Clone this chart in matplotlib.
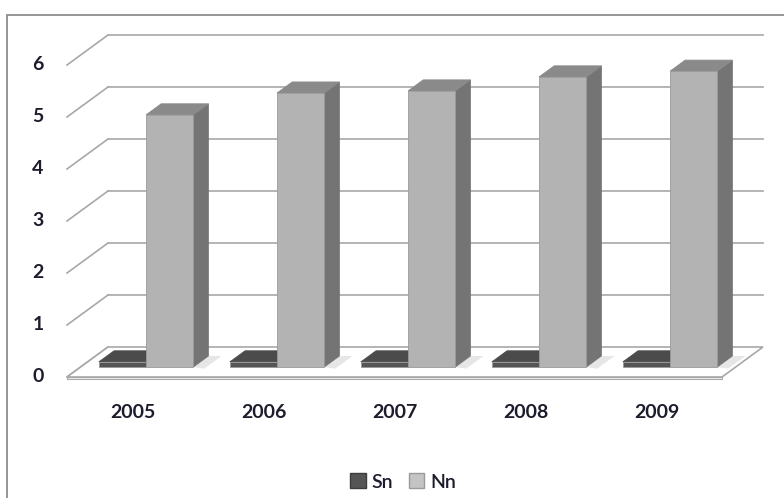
import numpy as np
import matplotlib.pyplot as plt
from matplotlib.patches import Polygon, Rectangle, Patch

years = ['2005', '2006', '2007', '2008', '2009']
sn = [0.1, 0.1, 0.1, 0.1, 0.1]
nn = [4.85, 5.27, 5.31, 5.58, 5.69]
ticks = [0, 1, 2, 3, 4, 5, 6]

# oblique projection of the depth axis (data units per unit depth)
DX = 41 / 131
DY = 30 / 52
d0, d1 = 0.33, 0.70   # depth span of the columns

plt.rcParams['font.family'] = ['Lato', 'DejaVu Sans']

fig = plt.figure(figsize=(7.84, 4.98), dpi=100)
ax = fig.add_axes([0, 0, 1, 1])
ax.set_xlim(-67 / 131, 717 / 131)
ax.set_ylim(-121 / 52, 377 / 52)
ax.axis('off')

# chart area border
fig.patches.append(Rectangle((7 / 784, -0.1), 1.2, 1 - 15 / 498 + 0.1,
                             transform=fig.transFigure, fill=False,
                             edgecolor='#8e8e8e', lw=1.3))


def proj(x, v, d):
    return (x + d * DX, v + d * DY)


n = len(years)
grid_col = '#a8a8a8'

# floor plate
floor = [proj(0, 0, 0), proj(n, 0, 0), proj(n, 0, 1), proj(0, 0, 1)]
ax.add_patch(Polygon(floor, closed=True, facecolor='white',
                     edgecolor=grid_col, lw=1.2, zorder=1))
ax.add_patch(Polygon([proj(0, 0, 0), proj(n, 0, 0), proj(n, -0.03, 0), proj(0, -0.03, 0)],
                     closed=True, facecolor='#f0f0f0', edgecolor=grid_col, lw=0.8, zorder=1))

# back wall gridlines and side diagonals
for t in ticks:
    if t > 0:
        xa, ya = proj(0, t, 1)
        xb, yb = proj(n, t, 1)
        ax.plot([xa, xb], [ya, yb], color=grid_col, lw=1.2, zorder=0)
    xa, ya = proj(0, t, 0)
    xb, yb = proj(0, t, 1)
    ax.plot([xa, xb], [ya, yb], color=grid_col, lw=1.2, zorder=0)
    ax.text(-29 / 131, t, str(t), ha='center', va='center',
            fontsize=14, fontweight='bold', color='#1c1c2c')


def column(x0, x1, v, front, side, top, z):
    f = [proj(x0, 0, d0), proj(x1, 0, d0), proj(x1, v, d0), proj(x0, v, d0)]
    s = [proj(x1, 0, d0), proj(x1, 0, d1), proj(x1, v, d1), proj(x1, v, d0)]
    tp = [proj(x0, v, d0), proj(x1, v, d0), proj(x1, v, d1), proj(x0, v, d1)]
    ax.add_patch(Polygon(s, closed=True, facecolor=side, edgecolor=side, lw=0.6, zorder=z))
    ax.add_patch(Polygon(tp, closed=True, facecolor=top, edgecolor=top, lw=0.6, zorder=z))
    ax.add_patch(Polygon(f, closed=True, facecolor=front, edgecolor='#9a9a9a', lw=0.6, zorder=z))


for i in range(n):
    # soft floor shadow to the right of the columns
    sh = [proj(i + 0.86, 0, d0), proj(i + 0.96, 0, d0 - 0.05),
          proj(i + 0.96, 0, d1), proj(i + 0.86, 0, d1)]
    ax.add_patch(Polygon(sh, closed=True, facecolor='#e6e6e6', edgecolor='none', zorder=2))
    column(i + 0.14, i + 0.50, sn[i], '#555555', '#3c3c3c', '#4b4b4b', 3)
    column(i + 0.50, i + 0.86, nn[i], '#b3b3b3', '#747474', '#8a8a8a', 4)
    ax.text(i + 0.5, -0.69, years[i], ha='center', va='center',
            fontsize=14, fontweight='bold', color='#1c1c2c')

handles = [Patch(facecolor='#555555', edgecolor='#3c3c3c', label='Sn'),
           Patch(facecolor='#c4c4c4', edgecolor='#9a9a9a', label='Nn')]
fig.legend(handles=handles, loc='center', bbox_to_anchor=(403 / 784, 1 - 482 / 498),
           ncol=2, frameon=False, fontsize=14, handlelength=0.8, handleheight=0.8,
           handletextpad=0.3, columnspacing=0.8, labelcolor='#1c1c2c',
           prop={'weight': 'semibold', 'size': 14})

fig.savefig('out.png', dpi=100)
